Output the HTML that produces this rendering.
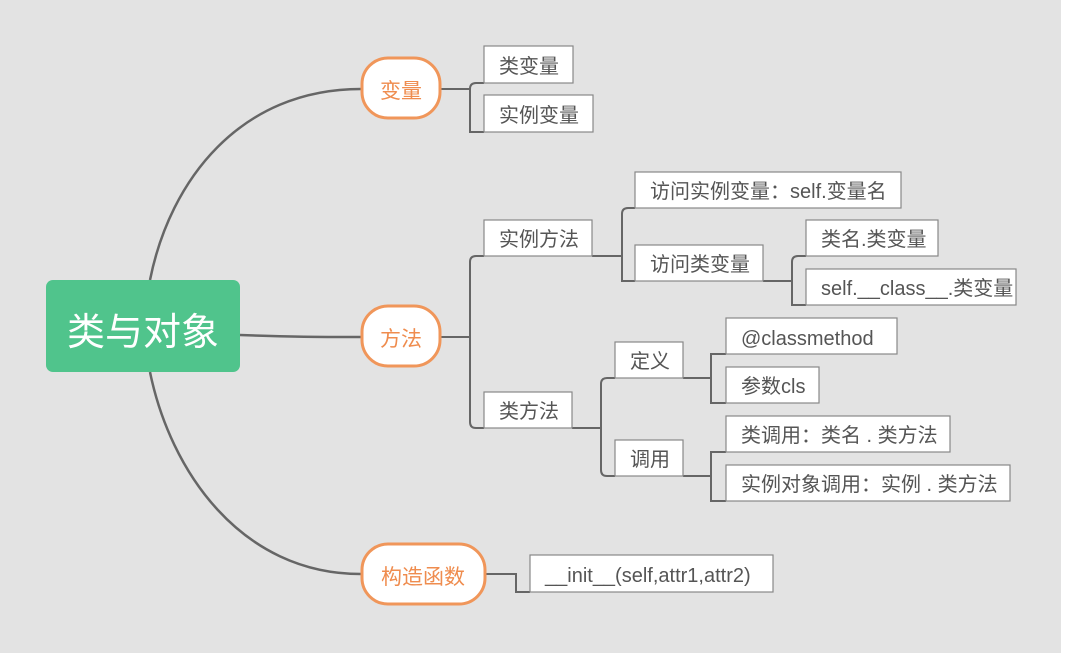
<!DOCTYPE html>
<html><head><meta charset="utf-8"><style>
html,body{margin:0;padding:0;background:#fff}
svg{display:block}
text{font-family:"Liberation Sans","Noto Sans CJK SC",sans-serif}
</style></head><body>
<svg width="1067" height="653" xmlns="http://www.w3.org/2000/svg">
<rect x="0" y="0" width="1061" height="653" fill="#e3e3e3"/>
<g fill="none" stroke="#666" stroke-width="2.5">
<path d="M150 280 C170 180 240 89 361 89"/>
<path d="M240 335 C290 337 320 337 361 337"/>
<path d="M150 372 C170 470 240 574 361 574"/>
</g>
<g fill="none" stroke="#666" stroke-width="2">
<path d="M441 89 H470"/><path d="M484 83 H476 Q470 83 470 89 V132 H484"/>
<path d="M441 337 H470"/><path d="M484 256 H476 Q470 256 470 262 V422 Q470 428 476 428 H484"/>
<path d="M592 256 H622"/><path d="M635 208 H628 Q622 208 622 214 V281 H635"/>
<path d="M763 281 H792"/><path d="M806 256 H798 Q792 256 792 262 V305 H806"/>
<path d="M572 428 H601"/><path d="M615 378 H607 Q601 378 601 384 V470 Q601 476 607 476 H615"/>
<path d="M683 378 H711"/><path d="M726 354 H711 V403 H726"/>
<path d="M683 476 H711"/><path d="M726 452 H711 V501 H726"/>
<path d="M486 574 H516 V592 H530"/>
</g>
<rect x="46" y="280" width="194" height="92" rx="7" fill="#50c48c"/>
<text x="143" y="345" font-size="38" fill="#fff" text-anchor="middle">类与对象</text>
<g fill="#fff" stroke="#f0965a" stroke-width="3">
<rect x="362" y="58" width="78" height="60" rx="26"/>
<rect x="362" y="306" width="78" height="60" rx="26"/>
<rect x="362" y="544" width="123" height="60" rx="26"/>
</g>
<g font-size="21" fill="#ef8c4e" text-anchor="middle">
<text x="401" y="98">变量</text><text x="401" y="346">方法</text><text x="423" y="584">构造函数</text>
</g>
<g fill="#fff" stroke="#888" stroke-width="1.2">
<rect x="484" y="46" width="89" height="37"/>
<rect x="484" y="95" width="109" height="37"/>
<rect x="484" y="220" width="108" height="36"/>
<rect x="484" y="392" width="88" height="36"/>
<rect x="635" y="172" width="266" height="36"/>
<rect x="635" y="245" width="128" height="36"/>
<rect x="806" y="220" width="132" height="36"/>
<rect x="806" y="269" width="210" height="36"/>
<rect x="615" y="342" width="68" height="36"/>
<rect x="615" y="440" width="68" height="36"/>
<rect x="726" y="318" width="171" height="36"/>
<rect x="726" y="367" width="93" height="36"/>
<rect x="726" y="416" width="224" height="36"/>
<rect x="726" y="465" width="284" height="36"/>
<rect x="530" y="555" width="243" height="37"/>
</g>
<g font-size="20" fill="#555">
<text x="499" y="73">类变量</text>
<text x="499" y="122">实例变量</text>
<text x="499" y="246">实例方法</text>
<text x="499" y="418">类方法</text>
<text x="650" y="198">访问实例变量：self.变量名</text>
<text x="650" y="271">访问类变量</text>
<text x="821" y="246">类名.类变量</text>
<text x="821" y="295">self.__class__.类变量</text>
<text x="630" y="368">定义</text>
<text x="630" y="466">调用</text>
<text x="741" y="345">@classmethod</text>
<text x="741" y="393">参数cls</text>
<text x="741" y="442">类调用：类名 . 类方法</text>
<text x="741" y="491">实例对象调用：实例 . 类方法</text>
<text x="545" y="582">__init__(self,attr1,attr2)</text>
</g>
</svg>
</body></html>
